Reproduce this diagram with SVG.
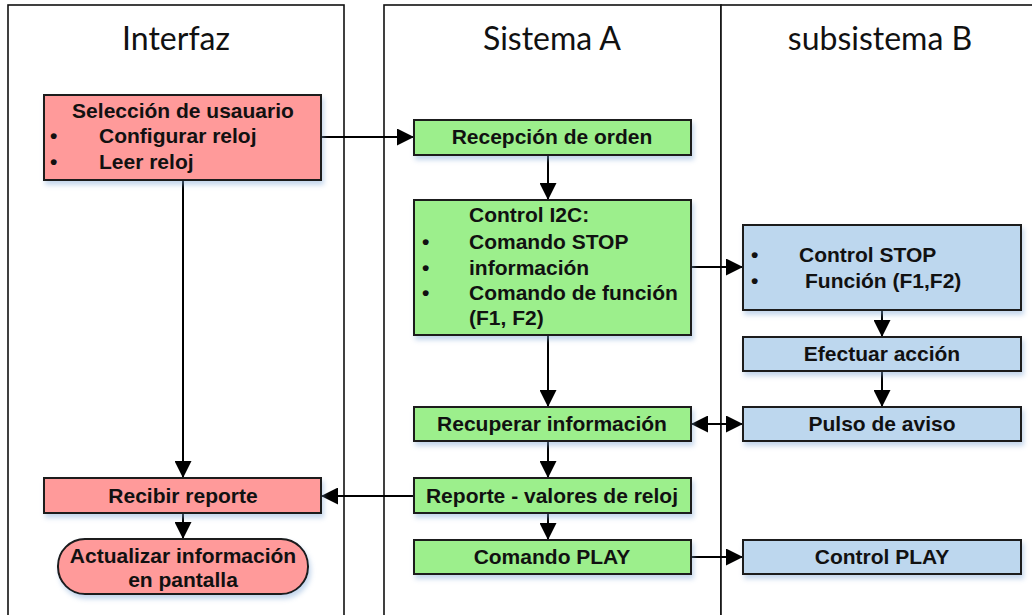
<svg xmlns="http://www.w3.org/2000/svg" width="1032" height="615" viewBox="0 0 1032 615">
  <style>
    .lane { fill: #ffffff; stroke: #111; stroke-width: 1.6; }
    .hdr { font-family: Lato, "Open Sans", sans-serif; font-size: 32px; fill: #111; text-anchor: middle; }
    .box { stroke: #1a1a1a; stroke-width: 2; filter: url(#sh); }
    .pink { fill: #ff9a9a; }
    .green { fill: #9cef8c; }
    .blue { fill: #bdd7ee; }
    .t { font-family: "Liberation Sans", Arial, sans-serif; font-weight: bold; font-size: 21px; fill: #111; }
    .c { text-anchor: middle; }
    .link { fill: none; stroke: #000; stroke-width: 2; }
  </style>
  <defs>
    <filter id="sh" x="-10%" y="-20%" width="125%" height="150%">
      <feDropShadow dx="2" dy="4" stdDeviation="2.5" flood-color="#7fa6d6" flood-opacity="0.45"/>
    </filter>
    <marker id="arr" viewBox="0 0 10 10" refX="10" refY="5" markerUnits="userSpaceOnUse" markerWidth="17" markerHeight="17" orient="auto-start-reverse">
      <path d="M0,0 L10,5 L0,10 z" fill="#000"/>
    </marker>
  </defs>

  <!-- swimlanes -->
  <g id="lanes">
    <rect class="lane" x="8" y="5" width="336" height="620"/>
    <rect class="lane" x="384" y="5" width="337" height="620"/>
    <rect class="lane" x="721" y="5" width="330" height="620"/>
    <line x1="8" y1="72" x2="344" y2="72" stroke="#111" stroke-width="1.6" filter="url(#sh)"/>
    <line x1="384" y1="72" x2="1032" y2="72" stroke="#111" stroke-width="1.6" filter="url(#sh)"/>
    <text class="hdr" x="176" y="50">Interfaz</text>
    <text class="hdr" x="552" y="50">Sistema A</text>
    <text class="hdr" x="880" y="50">subsistema B</text>
  </g>

  <!-- connectors -->
  <g id="connectors">
    <path class="link" d="M321,137 H414" marker-end="url(#arr)"/>
    <path class="link" d="M548,155 V200" marker-end="url(#arr)"/>
    <path class="link" d="M691,267 H743" marker-end="url(#arr)"/>
    <path class="link" d="M882,310 V337" marker-end="url(#arr)"/>
    <path class="link" d="M882,371 V407" marker-end="url(#arr)"/>
    <path class="link" d="M548,335 V407" marker-end="url(#arr)"/>
    <path class="link" d="M691,424 H743" marker-start="url(#arr)" marker-end="url(#arr)"/>
    <path class="link" d="M548,441 V478" marker-end="url(#arr)"/>
    <path class="link" d="M548,513 V540" marker-end="url(#arr)"/>
    <path class="link" d="M691,557 H743" marker-end="url(#arr)"/>
    <path class="link" d="M414,496 H321" marker-end="url(#arr)"/>
    <path class="link" d="M183,180 V478" marker-end="url(#arr)"/>
    <path class="link" d="M183,513 V539" marker-end="url(#arr)"/>
  </g>

  <!-- Interfaz lane -->
  <g id="seleccion">
    <rect class="box pink" x="44" y="95" width="277" height="85"/>
    <text class="t c" x="183" y="118">Selección de usauario</text>
    <text class="t" x="50" y="143">•</text>
    <text class="t" x="99" y="143">Configurar reloj</text>
    <text class="t" x="50" y="169">•</text>
    <text class="t" x="99" y="169">Leer reloj</text>
  </g>
  <g id="recibir">
    <rect class="box pink" x="44" y="478" width="277" height="35"/>
    <text class="t c" x="183" y="503">Recibir reporte</text>
  </g>
  <g id="actualizar">
    <rect class="box pink" x="58" y="539" width="250" height="55" rx="27" ry="27"/>
    <text class="t c" x="183" y="563">Actualizar información</text>
    <text class="t c" x="183" y="587">en pantalla</text>
  </g>

  <!-- Sistema A lane -->
  <g id="recepcion">
    <rect class="box green" x="414" y="120" width="277" height="35"/>
    <text class="t c" x="552" y="144">Recepción de orden</text>
  </g>
  <g id="control-i2c">
    <rect class="box green" x="414" y="200" width="277" height="135"/>
    <text class="t" x="469" y="222">Control I2C:</text>
    <text class="t" x="422" y="249">•</text>
    <text class="t" x="469" y="249">Comando STOP</text>
    <text class="t" x="422" y="275">•</text>
    <text class="t" x="469" y="275">información</text>
    <text class="t" x="422" y="300">•</text>
    <text class="t" x="469" y="300">Comando de función</text>
    <text class="t" x="469" y="325">(F1, F2)</text>
  </g>
  <g id="recuperar">
    <rect class="box green" x="414" y="407" width="277" height="34"/>
    <text class="t c" x="552" y="431">Recuperar información</text>
  </g>
  <g id="reporte">
    <rect class="box green" x="414" y="478" width="277" height="35"/>
    <text class="t c" x="552" y="503">Reporte - valores de reloj</text>
  </g>
  <g id="comando-play">
    <rect class="box green" x="414" y="540" width="277" height="34"/>
    <text class="t c" x="552" y="564">Comando PLAY</text>
  </g>

  <!-- subsistema B lane -->
  <g id="control-stop">
    <rect class="box blue" x="743" y="225" width="278" height="85"/>
    <text class="t" x="751" y="262">•</text>
    <text class="t" x="799" y="262">Control STOP</text>
    <text class="t" x="751" y="288">•</text>
    <text class="t" x="805" y="288">Función (F1,F2)</text>
  </g>
  <g id="efectuar">
    <rect class="box blue" x="743" y="337" width="278" height="34"/>
    <text class="t c" x="882" y="361">Efectuar acción</text>
  </g>
  <g id="pulso">
    <rect class="box blue" x="743" y="407" width="278" height="34"/>
    <text class="t c" x="882" y="431">Pulso de aviso</text>
  </g>
  <g id="control-play">
    <rect class="box blue" x="743" y="540" width="278" height="34"/>
    <text class="t c" x="882" y="564">Control PLAY</text>
  </g>
</svg>
